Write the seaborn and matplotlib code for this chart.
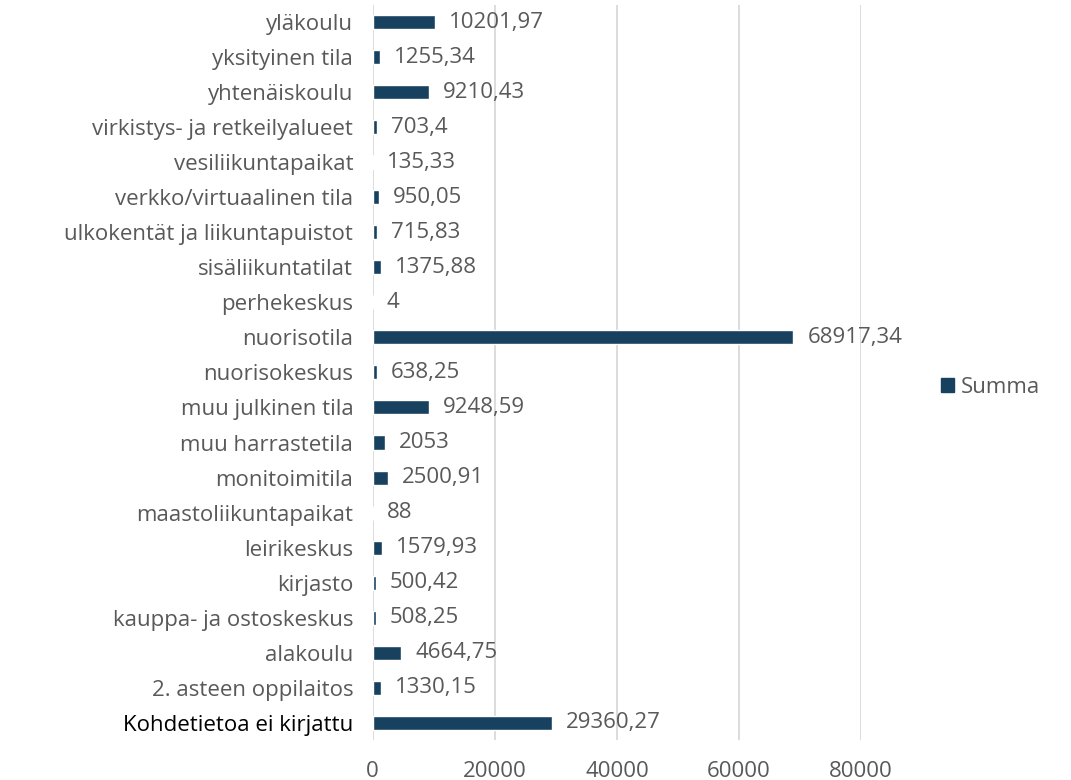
import matplotlib
matplotlib.use("Agg")
import matplotlib.pyplot as plt
import seaborn as sns
import pandas as pd
from matplotlib.patches import Patch

# Data (top to bottom as in the chart)
categories = [
    "yläkoulu", "yksityinen tila", "yhtenäiskoulu", "virkistys- ja retkeilyalueet",
    "vesiliikuntapaikat", "verkko/virtuaalinen tila", "ulkokentät ja liikuntapuistot",
    "sisäliikuntatilat", "perhekeskus", "nuorisotila", "nuorisokeskus",
    "muu julkinen tila", "muu harrastetila", "monitoimitila", "maastoliikuntapaikat",
    "leirikeskus", "kirjasto", "kauppa- ja ostoskeskus", "alakoulu",
    "2. asteen oppilaitos", "Kohdetietoa ei kirjattu",
]
values = [
    10201.97, 1255.34, 9210.43, 703.4, 135.33, 950.05, 715.83, 1375.88, 4,
    68917.34, 638.25, 9248.59, 2053, 2500.91, 88, 1579.93, 500.42, 508.25,
    4664.75, 1330.15, 29360.27,
]
x_ticks = [0, 20000, 40000, 60000, 80000]

bar_color = "#17415f"
text_color = "#595959"
fs = 16

df = pd.DataFrame({"kohde": categories, "Summa": values})

sns.set_style("white")
plt.rcParams["font.family"] = ["Open Sans", "DejaVu Sans"]

fig = plt.figure(figsize=(10.71, 7.8), dpi=100)
ax = fig.add_axes([0.348, 0.051, 0.456, 0.943])

sns.barplot(data=df, x="Summa", y="kohde", orient="h", color=bar_color,
            width=0.4, ax=ax, saturation=1)

ax.set_xlim(0, 80000)
ax.set_xticks(x_ticks)
ax.set_xticklabels([str(t) for t in x_ticks])
ax.grid(axis="x", color="#d9d9d9", linewidth=1.3)
ax.set_axisbelow(True)
for s in ax.spines.values():
    s.set_visible(False)
ax.set_xlabel("")
ax.set_ylabel("")
ax.tick_params(axis="x", length=0, pad=15, labelsize=fs, labelcolor=text_color)
ax.tick_params(axis="y", length=0, pad=14, labelsize=fs, labelcolor=text_color)
ax.get_yticklabels()[-1].set_color("black")

# value labels with comma decimals
for i, v in enumerate(values):
    txt = str(v).replace(".", ",")
    ax.annotate(txt, (v, i), xytext=(10, 0), textcoords="offset points",
                va="center", ha="left", fontsize=fs, color=text_color)

fig.legend(handles=[Patch(color=bar_color, label="Summa")], loc="center left",
           bbox_to_anchor=(0.86, 0.503), frameon=False, fontsize=fs,
           handlelength=0.6, handleheight=0.6, handletextpad=0.3,
           labelcolor=text_color)

fig.savefig("out.png", dpi=100)
